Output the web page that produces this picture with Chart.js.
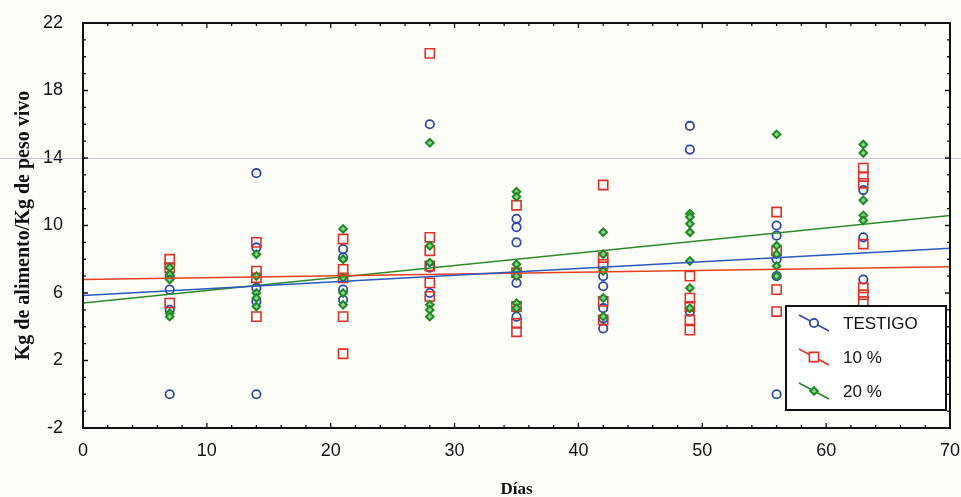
<!DOCTYPE html>
<html>
<head>
<meta charset="utf-8">
<script src="https://cdn.jsdelivr.net/npm/chart.js@4.4.0/dist/chart.umd.min.js"></script>
<style>
    html, body { margin: 0; padding: 0; background: #fefef8; }
    #wrap { width: 961px; height: 497px; }
</style>
</head>
<body>
<div id="wrap"><canvas id="myChart" width="961" height="497"></canvas></div>
<script>
// days on the x axis
const dias = [7, 14, 21, 28, 35, 42, 49, 56, 63];

// observed values per day (one inner list per day)
const testigo = [
    [7.0, 6.2, 5.0, 0.0],
    [13.1, 8.7, 6.3, 5.5, 0.0],
    [8.6, 8.1, 6.2, 5.6],
    [16.0, 7.5, 6.0],
    [10.4, 9.9, 9.0, 6.6, 4.6],
    [7.0, 6.4, 5.1, 4.5, 3.9],
    [15.9, 14.5, 4.9],
    [10.0, 9.4, 8.0, 7.0, 0.0],
    [12.1, 9.3, 6.8]
];
const diez = [
    [8.0, 7.5, 5.4],
    [9.0, 7.3, 6.9, 4.6],
    [9.2, 7.4, 6.9, 4.6, 2.4],
    [20.2, 9.3, 8.5, 7.6, 6.6, 5.8],
    [11.2, 7.2, 5.2, 4.2, 3.7],
    [12.4, 8.1, 7.7, 5.5, 4.4],
    [7.0, 5.7, 5.2, 4.4, 3.8],
    [10.8, 8.5, 6.2, 4.9],
    [13.4, 12.9, 12.5, 8.9, 6.3, 5.9, 5.5]
];
const veinte = [
    [7.5, 7.1, 6.8, 4.8, 4.6],
    [8.3, 7.0, 6.0, 5.7, 5.2],
    [9.8, 8.0, 6.9, 6.0, 5.3],
    [14.9, 8.8, 7.8, 5.3, 5.0, 4.6],
    [12.0, 11.7, 7.7, 7.3, 7.0, 5.4, 5.1],
    [9.6, 8.3, 7.3, 5.7, 4.6],
    [10.7, 10.5, 10.1, 9.6, 7.9, 6.3, 5.1],
    [15.4, 8.8, 8.3, 7.6, 7.0],
    [14.8, 14.3, 11.5, 10.6, 10.3]
];

// fitted lines (ends at x = 0 and x = 70)
const lineaX = [0, 70];
const lineaTestigo = [5.85, 8.65];
const lineaDiez = [6.8, 7.55];
const lineaVeinte = [5.4, 10.6];

const yTicks = [-2, 2, 6, 10, 14, 18, 22];
const xTicks = [0, 10, 20, 30, 40, 50, 60, 70];

const AZUL = "#2b48a8";
const ROJO = "#e03028";
const VERDE = "#1e8a22";

function puntos(grupos) {
    let out = [];
    grupos.forEach(function (vals, i) {
        vals.forEach(function (v) {
            out.push({ x: dias[i], y: v });
        });
    });
    return out;
}

function linea(ys) {
    return lineaX.map(function (x, i) { return { x: x, y: ys[i] }; });
}

const series = [
    { label: "TESTIGO", color: AZUL, style: "circle" },
    { label: "10 %", color: ROJO, style: "rect" },
    { label: "20 %", color: VERDE, style: "rectRot" }
];

function marca(ctx, style, color, x, y) {
    ctx.save();
    ctx.strokeStyle = color;
    ctx.beginPath();
    if (style === "circle") {
        ctx.lineWidth = 1.8;
        ctx.arc(x, y, 4.2, 0, Math.PI * 2);
        ctx.fillStyle = "#ffffff";
    } else if (style === "rect") {
        ctx.lineWidth = 1.6;
        ctx.rect(x - 4.6, y - 4.6, 9.2, 9.2);
        ctx.fillStyle = "#ffffff";
    } else {
        ctx.lineWidth = 2;
        ctx.moveTo(x, y - 3.8); ctx.lineTo(x + 3.8, y); ctx.lineTo(x, y + 3.8); ctx.lineTo(x - 3.8, y);
        ctx.closePath();
        ctx.fillStyle = "#8fd08f";
    }
    ctx.fill();
    ctx.stroke();
    ctx.restore();
}

const marcoPlugin = {
    id: "marco",
    beforeDraw(chart) {
        const ctx = chart.ctx;
        ctx.save();
        ctx.fillStyle = "#fefef8";
        ctx.fillRect(0, 0, chart.width, chart.height);
        ctx.restore();
    },
    afterDraw(chart) {
        const ctx = chart.ctx;
        const a = chart.chartArea;
        const sx = chart.scales.x;
        const sy = chart.scales.y;
        ctx.save();
        // faint scan line seen across the picture
        ctx.strokeStyle = "rgba(200,160,215,0.7)";
        ctx.lineWidth = 1;
        ctx.beginPath();
        ctx.moveTo(0, 158.5);
        ctx.lineTo(chart.width, 158.5);
        ctx.stroke();

        ctx.strokeStyle = "#111";
        ctx.lineWidth = 2;
        ctx.strokeRect(a.left, a.top, a.right - a.left, a.bottom - a.top);
        ctx.lineWidth = 1.3;
        ctx.beginPath();
        for (let v = 0; v <= 70; v += 2) {
            const px = sx.getPixelForValue(v);
            const len = v % 10 === 0 ? 5 : 3;
            ctx.moveTo(px, a.bottom); ctx.lineTo(px, a.bottom - len);
            ctx.moveTo(px, a.top); ctx.lineTo(px, a.top + len);
        }
        for (let v = -2; v <= 22; v += 1) {
            const py = sy.getPixelForValue(v);
            const len = (v + 2) % 4 === 0 ? 5 : 3;
            ctx.moveTo(a.left, py); ctx.lineTo(a.left + len, py);
            ctx.moveTo(a.right, py); ctx.lineTo(a.right - len, py);
        }
        ctx.stroke();

        // legend box
        const bx = a.right - 164, by = a.bottom - 122, bw = 160, bh = 104;
        ctx.fillStyle = "#ffffff";
        ctx.fillRect(bx, by, bw, bh);
        ctx.lineWidth = 2;
        ctx.strokeRect(bx, by, bw, bh);
        ctx.font = "17px 'Liberation Sans', Arial, sans-serif";
        ctx.textBaseline = "middle";
        ctx.textAlign = "left";
        series.forEach(function (s, i) {
            const cy = by + 17 + i * 34;
            ctx.strokeStyle = s.color;
            ctx.lineWidth = 1.5;
            ctx.beginPath();
            ctx.moveTo(bx + 13, cy - 8);
            ctx.lineTo(bx + 43, cy + 8);
            ctx.stroke();
            marca(ctx, s.style, s.color, bx + 28, cy);
            ctx.fillStyle = "#111";
            ctx.fillText(s.label, bx + 57, cy + 1);
        });
        ctx.restore();
    }
};

let ctx = document.getElementById("myChart");

new Chart(ctx, {
    type: "scatter",
    data: {
        datasets: [
            { label: "lineaTestigo", data: linea(lineaTestigo), showLine: true, borderColor: "#2a58c0", borderWidth: 1.5, pointRadius: 0 },
            { label: "lineaDiez", data: linea(lineaDiez), showLine: true, borderColor: "#e8401c", borderWidth: 1.5, pointRadius: 0 },
            { label: "lineaVeinte", data: linea(lineaVeinte), showLine: true, borderColor: "#2a8a2a", borderWidth: 1.5, pointRadius: 0 },
            { label: "20 %", data: puntos(veinte), pointStyle: "rectRot", radius: 3.8, borderWidth: 2, borderColor: VERDE, backgroundColor: "#8fd08f" },
            { label: "10 %", data: puntos(diez), pointStyle: "rect", radius: 6.5, borderWidth: 1.6, borderColor: ROJO, backgroundColor: "rgba(255,255,255,0)" },
            { label: "TESTIGO", data: puntos(testigo), pointStyle: "circle", radius: 4.2, borderWidth: 1.8, borderColor: AZUL, backgroundColor: "rgba(255,255,255,0)" }
        ]
    },
    options: {
        responsive: false,
        animation: false,
        layout: { padding: { top: 23, right: 11, left: 0, bottom: 0 } },
        plugins: {
            legend: { display: false },
            tooltip: { enabled: false }
        },
        scales: {
            x: {
                type: "linear",
                min: 0,
                max: 70,
                afterFit: function (scale) {
                    scale.height = 69;
                    scale.paddingLeft = 0;
                    scale.paddingRight = 0;
                },
                afterBuildTicks: function (scale) { scale.ticks = xTicks.map(function (v) { return { value: v }; }); },
                grid: { drawOnChartArea: false, drawTicks: false },
                border: { display: false },
                ticks: { padding: 12, color: "#111", font: { family: "'Liberation Sans', Arial, sans-serif", size: 18 } },
                title: { display: true, text: "Días", color: "#111", padding: { top: 0, bottom: -3 }, font: { family: "'Liberation Serif', 'Times New Roman', serif", size: 17, weight: "bold" } }
            },
            y: {
                type: "linear",
                min: -2,
                max: 22,
                afterFit: function (scale) {
                    scale.width = 83;
                    scale.paddingTop = 0;
                    scale.paddingBottom = 0;
                },
                afterBuildTicks: function (scale) { scale.ticks = yTicks.map(function (v) { return { value: v }; }); },
                grid: { drawOnChartArea: false, drawTicks: false },
                border: { display: false },
                ticks: { padding: 20, color: "#111", font: { family: "'Liberation Sans', Arial, sans-serif", size: 18 } },
                title: { display: true, text: "Kg de alimento/Kg de peso vivo", color: "#111", padding: { top: 12, bottom: 0 }, font: { family: "'Liberation Serif', 'Times New Roman', serif", size: 20, weight: "bold" } }
            }
        }
    },
    plugins: [marcoPlugin]
});
</script>
</body>
</html>
